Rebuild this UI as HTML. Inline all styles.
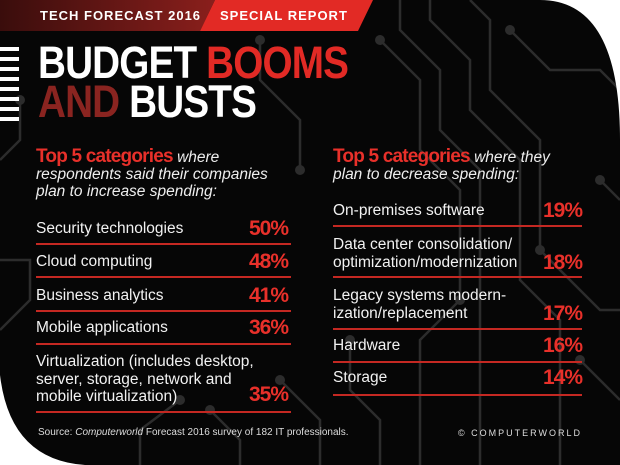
<!DOCTYPE html>
<html><head><meta charset="utf-8"><style>
body{margin:0;background:#fff}
#c{position:relative;width:620px;height:465px;overflow:hidden;background:#060606;font-family:"Liberation Sans",sans-serif;color:#fff}
.a{position:absolute;white-space:nowrap}
.t{font-size:15.5px;color:#f2f2f2}
.p{font-size:21px;font-weight:bold;color:#e8302a;text-align:right;letter-spacing:-1px}
.ln{position:absolute;height:2px;background:#c42822}
.h{font-size:15.5px;color:#eee;font-style:italic;line-height:17px}
.h b{font-style:normal;color:#e8302a;font-size:19px;letter-spacing:-0.8px}
</style></head><body><div id="c">
<svg class="a" style="left:0;top:0" width="620" height="465">
<g stroke="#2c2c2c" stroke-width="2.5" fill="none">
<polyline points="380,40 420,80 420,150 460,190 460,300 420,340 420,465"/>
<polyline points="400,0 400,30 440,70 440,130 480,170 480,465"/>
<polyline points="430,0 430,20 470,60 470,110 520,160 520,280 560,320 560,465"/>
<polyline points="470,0 490,20 490,90 540,140 540,250 600,310 620,310"/>
<polyline points="510,30 550,70 600,70 620,90"/>
<polyline points="300,170 300,120 260,80 260,40"/>
<polyline points="320,465 320,420 280,380"/>
<polyline points="140,465 140,430 180,400"/>
<polyline points="0,160 20,140 20,100"/>
<polyline points="0,260 30,260 30,300 0,330"/>
<polyline points="600,180 620,200"/>
<polyline points="580,360 620,400"/>
<polyline points="240,465 240,440 210,410"/>
<polyline points="380,465 380,420 350,390 350,340"/>
</g>
<g fill="#2c2c2c"><circle cx="380" cy="40" r="5"/><circle cx="510" cy="30" r="5"/><circle cx="300" cy="170" r="5"/><circle cx="280" cy="380" r="5"/><circle cx="180" cy="400" r="5"/><circle cx="20" cy="100" r="5"/><circle cx="600" cy="180" r="5"/><circle cx="580" cy="360" r="5"/><circle cx="210" cy="410" r="5"/><circle cx="350" cy="340" r="5"/><circle cx="460" cy="300" r="5"/><circle cx="540" cy="250" r="5"/><circle cx="260" cy="40" r="5"/></g>
<path d="M540,0 Q620,0 620,140 L620,0 Z" fill="#fff"/>
<path d="M0,375 Q10,460 85,465 L0,465 Z" fill="#fff"/>
<defs><linearGradient id="g" x1="0" x2="1"><stop offset="0" stop-color="#3a0d0c"/><stop offset="1" stop-color="#8a1f1c"/></linearGradient></defs>
<polygon points="0,0 215,0 200,31 0,31" fill="url(#g)"/>
<polygon points="215,0 373,0 358,31 200,31" fill="#e22a25"/>
<g fill="#fff"><rect x="0" y="47" width="19" height="4"/><rect x="0" y="57" width="19" height="4"/><rect x="0" y="67" width="19" height="4"/><rect x="0" y="77" width="19" height="4"/><rect x="0" y="87" width="19" height="4"/><rect x="0" y="97" width="19" height="4"/><rect x="0" y="107" width="19" height="4"/><rect x="0" y="117" width="19" height="4"/></g>
</svg>
<div class="a" style="left:40px;top:8px;font-size:13px;font-weight:bold;letter-spacing:1px">TECH FORECAST 2016</div>
<div class="a" style="left:220px;top:8px;font-size:13px;font-weight:bold;letter-spacing:1px">SPECIAL REPORT</div>
<div class="a" style="left:38px;top:40px;font-size:45px;font-weight:bold;line-height:45px;transform:scaleX(.86);transform-origin:left;letter-spacing:-1px">BUDGET <span style="color:#e22a25">BOOMS</span></div>
<div class="a" style="left:38px;top:79px;font-size:45px;font-weight:bold;line-height:45px;transform:scaleX(.86);transform-origin:left;letter-spacing:-1px"><span style="color:#8a2420">AND</span> BUSTS</div>

<div class="a h" style="left:36px;top:148px"><b>Top 5 categories</b> where<br>respondents said their companies<br>plan to increase spending:</div>
<div class="a h" style="left:333px;top:148px"><b>Top 5 categories</b> where they<br>plan to decrease spending:</div>

<div class="a t" style="left:36px;top:220px">Security technologies</div><div class="a p" style="right:332px;top:217px">50%</div><div class="ln" style="left:36px;width:255px;top:243px"></div>
<div class="a t" style="left:36px;top:253px">Cloud computing</div><div class="a p" style="right:332px;top:250px">48%</div><div class="ln" style="left:36px;width:255px;top:276px"></div>
<div class="a t" style="left:36px;top:287px">Business analytics</div><div class="a p" style="right:332px;top:284px">41%</div><div class="ln" style="left:36px;width:255px;top:310px"></div>
<div class="a t" style="left:36px;top:319px">Mobile applications</div><div class="a p" style="right:332px;top:316px">36%</div><div class="ln" style="left:36px;width:255px;top:343px"></div>
<div class="a t" style="left:36px;top:353px;line-height:17.5px">Virtualization (includes desktop,<br>server, storage, network and<br>mobile virtualization)</div><div class="a p" style="right:332px;top:383px">35%</div><div class="ln" style="left:36px;width:255px;top:411px"></div>

<div class="a t" style="left:333px;top:202px">On-premises software</div><div class="a p" style="right:38px;top:199px">19%</div><div class="ln" style="left:333px;width:249px;top:225px"></div>
<div class="a t" style="left:333px;top:236px;line-height:17.5px">Data center consolidation/<br>optimization/modernization</div><div class="a p" style="right:38px;top:251px">18%</div><div class="ln" style="left:333px;width:249px;top:276px"></div>
<div class="a t" style="left:333px;top:287px;line-height:17.5px">Legacy systems modern-<br>ization/replacement</div><div class="a p" style="right:38px;top:302px">17%</div><div class="ln" style="left:333px;width:249px;top:328px"></div>
<div class="a t" style="left:333px;top:337px">Hardware</div><div class="a p" style="right:38px;top:334px">16%</div><div class="ln" style="left:333px;width:249px;top:361px"></div>
<div class="a t" style="left:333px;top:369px">Storage</div><div class="a p" style="right:38px;top:366px">14%</div><div class="ln" style="left:333px;width:249px;top:394px"></div>

<div class="a" style="left:38px;top:427px;font-size:10px;color:#ddd">Source: <i>Computerworld</i> Forecast 2016 survey of 182 IT professionals.</div>
<div class="a" style="right:38px;top:428px;font-size:9px;color:#ddd;letter-spacing:2px">© COMPUTERWORLD</div>
</div></body></html>
